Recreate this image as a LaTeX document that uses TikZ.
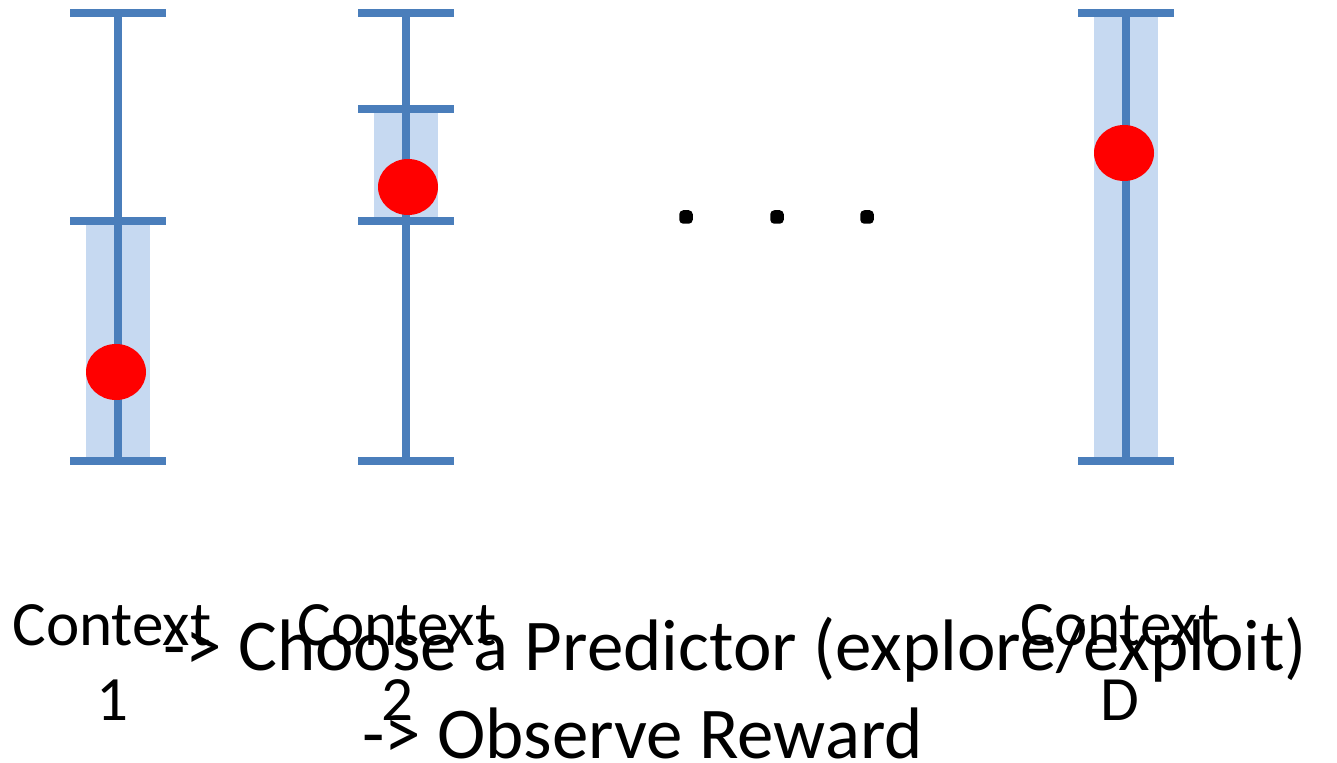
\documentclass[tikz,border=0pt]{standalone}
\usepackage{fontspec}
\setmainfont{Carlito}
\usetikzlibrary{shapes.geometric, positioning, calc}
\definecolor{barblue}{HTML}{4A7EBB}
\definecolor{bandblue}{HTML}{C6D9F1}

\begin{document}
\begin{tikzpicture}[
    % error bar pieces
    whisk/.style={line width=1.6mm, draw=barblue},
    capline/.style={line width=1.6mm, draw=barblue},
    band/.style={fill=bandblue, draw=none},
    est/.style={ellipse, fill=red, minimum width=1.2cm, minimum height=1.12cm, inner sep=0pt},
    dotmark/.style={fill=black, rounded corners=0.08cm, minimum size=0.27cm, inner sep=0pt},
    % labels
    ctx/.style={anchor=base, inner sep=0pt, font=\fontsize{35.9}{43}\selectfont},
    bigtxt/.style={anchor=base, inner sep=0pt, font=\fontsize{41.5}{49}\selectfont}
]
\useasboundingbox (0,0) rectangle (26.74,15.24);

% ===============================
% Context 1
% ===============================
\begin{scope}[shift={(2.36,6.02)}]
    \coordinate (lo1) at (0,0);
    \coordinate (mid1) at (0,4.8);
    \coordinate (hi1) at (0,8.96);
    \fill[band] (-0.64,0) rectangle (0.64,4.8);
    \draw[whisk] (lo1) -- (hi1);
    \draw[capline] ($(lo1)+(-0.96,0)$) -- ++(1.92,0);
    \draw[capline] ($(mid1)+(-0.96,0)$) -- ++(1.92,0);
    \draw[capline] ($(hi1)+(-0.96,0)$) -- ++(1.92,0);
    \node[est] (est1) at (-0.04,1.78) {};
\end{scope}

% ===============================
% Context 2
% ===============================
\begin{scope}[shift={(8.12,6.02)}]
    \coordinate (lo2) at (0,0);
    \coordinate (mid2) at (0,4.8);
    \coordinate (up2) at (0,7.04);
    \coordinate (hi2) at (0,8.96);
    \fill[band] (-0.64,4.8) rectangle (0.64,7.04);
    \draw[whisk] (lo2) -- (hi2);
    \draw[capline] ($(lo2)+(-0.96,0)$) -- ++(1.92,0);
    \draw[capline] ($(mid2)+(-0.96,0)$) -- ++(1.92,0);
    \draw[capline] ($(up2)+(-0.96,0)$) -- ++(1.92,0);
    \draw[capline] ($(hi2)+(-0.96,0)$) -- ++(1.92,0);
    \node[est] (est2) at (0.04,5.48) {};
\end{scope}

% Dots in between
\node[dotmark] (dot1) at (13.72,10.9) {};
\node[dotmark] (dot2) at (15.54,10.9) {};
\node[dotmark] (dot3) at (17.34,10.9) {};

% ===============================
% Context D
% ===============================
\begin{scope}[shift={(22.52,6.02)}]
    \coordinate (loD) at (0,0);
    \coordinate (hiD) at (0,8.96);
    \fill[band] (-0.64,0) rectangle (0.64,8.96);
    \draw[whisk] (loD) -- (hiD);
    \draw[capline] ($(loD)+(-0.96,0)$) -- ++(1.92,0);
    \draw[capline] ($(hiD)+(-0.96,0)$) -- ++(1.92,0);
    \node[est] (estD) at (-0.04,6.16) {};
\end{scope}

% Labels
\node[ctx] (ctx1) at (2.24,2.34) {Context};
\node[ctx] (num1) at ($(ctx1.base)+(0,-1.5)$) {1};
\node[ctx] (ctx2) at (7.94,2.34) {Context};
\node[ctx] (num2) at ($(ctx2.base)+(0,-1.5)$) {2};
\node[ctx] (ctxD) at (22.4,2.34) {Context};
\node[ctx] (numD) at ($(ctxD.base)+(0,-1.5)$) {D};

\node[bigtxt] (choose) at (14.7,1.84) {-> Choose a Predictor (explore/exploit)};
\node[bigtxt] (observe) at (12.85,0.08) {-> Observe Reward};

\end{tikzpicture}
\end{document}
